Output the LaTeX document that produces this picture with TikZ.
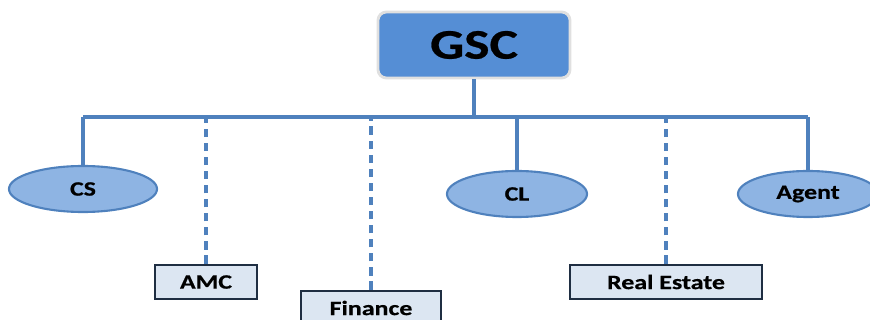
\documentclass[tikz,border=0pt]{standalone}
\usepackage{fontspec}
\setmainfont{Carlito}
\newfontfamily\widefont[FakeStretch=1.27, FakeBold=0.6]{Carlito}
\usetikzlibrary{shapes.geometric, positioning}
\usepackage{xcolor}
\definecolor{GscBlue}{HTML}{558ED5}
\definecolor{UnitBlue}{HTML}{8EB4E3}
\definecolor{LineBlue}{HTML}{4F81BD}
\definecolor{BoxFill}{HTML}{DCE6F2}
\definecolor{BoxEdge}{HTML}{1F2E42}

\begin{document}
\begin{tikzpicture}[x=0.025cm, y=-0.025cm,
    unit/.style={draw=LineBlue, line width=1.5pt, ellipse, fill=UnitBlue, minimum width=3.6cm, minimum height=1.15cm, inner sep=0pt, font=\widefont\fontsize{14.5}{16}\selectfont\bfseries},
    office/.style={draw=BoxEdge, line width=2pt, rectangle, fill=BoxFill, minimum height=0.85cm, inner sep=0pt, font=\widefont\fontsize{14.5}{16}\selectfont\bfseries},
    link/.style={draw=LineBlue, line width=2.3pt},
    weak/.style={link, dash pattern=on 6pt off 4pt}]
    \useasboundingbox (0,0) rectangle (870,320);
                % Nodes
                \node[draw=black!12, line width=2pt, rounded corners=6pt, fill=GscBlue, minimum width=4.8cm, minimum height=1.65cm, font=\widefont\fontsize{30}{32}\selectfont\bfseries] (gsc) at (474,45) {GSC};
                \node[unit, minimum width=3.7cm] (cs) at (83,189) {CS};
                \node[unit, minimum width=3.5cm] (cl) at (517,194) {CL};
                \node[unit, minimum width=3.5cm] (agent) at (808,194) {Agent};
                \node[office, minimum width=2.55cm] (amc) at (206,282) {AMC};
                \node[office, minimum width=3.5cm] (finance) at (371,308) {Finance};
                \node[office, minimum width=4.8cm] (estate) at (666,282) {Real Estate};
                \coordinate (busL) at (83,117);
                \coordinate (busR) at (808,117);

                % Edges
                \draw[link] (busL) -- (busR);
                \draw[link] (gsc) -- (gsc |- busL);
                \draw[link] (cs) -- (cs |- busL);
                \draw[link] (cl) -- (cl |- busL);
                \draw[link] (agent) -- (agent |- busL);
                \draw[weak] (amc.north) -- (amc |- busL);
                \draw[weak] (finance.north) -- (finance |- busL);
                \draw[weak] (estate.north) -- (estate |- busL);
            \end{tikzpicture}
\end{document}
